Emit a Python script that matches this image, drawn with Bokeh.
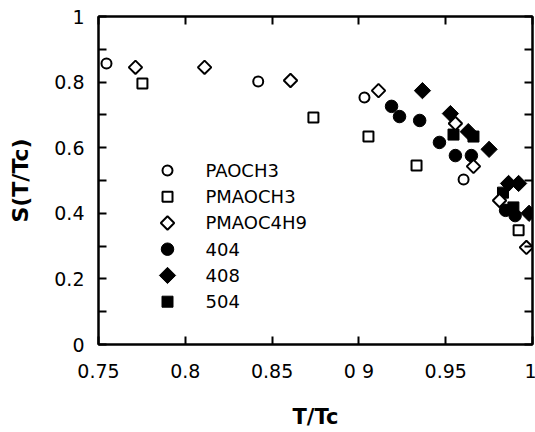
import math
from bokeh.plotting import figure
from bokeh.models import Range1d, LinearAxis, FixedTicker, CustomLabelingPolicy
from bokeh.core.properties import value
from bokeh.embed import file_html
from bokeh.resources import INLINE

# ---- data ----
paoch3_x = [0.7546, 0.842, 0.9032, 0.9603]
paoch3_y = [0.857, 0.802, 0.753, 0.503]

pmaoch3_x = [0.7753, 0.8738, 0.9055, 0.9332, 0.992]
pmaoch3_y = [0.796, 0.692, 0.634, 0.546, 0.348]

pmaoc4h9_x = [0.7713, 0.8111, 0.8606, 0.9113, 0.9556, 0.966, 0.981, 0.9965]
pmaoc4h9_y = [0.845, 0.845, 0.805, 0.774, 0.674, 0.543, 0.439, 0.296]

s404_x = [0.9188, 0.9234, 0.935, 0.9464, 0.9556, 0.9648, 0.9845, 0.990]
s404_y = [0.726, 0.695, 0.683, 0.616, 0.576, 0.576, 0.409, 0.393]

s408_x = [0.9366, 0.9527, 0.963, 0.975, 0.9862, 0.992, 0.998]
s408_y = [0.774, 0.704, 0.649, 0.595, 0.491, 0.491, 0.400]

s504_x = [0.9545, 0.966, 0.983, 0.989]
s504_y = [0.640, 0.634, 0.463, 0.418]

series_names = ["PAOCH3", "PMAOCH3", "PMAOC4H9", "404", "408", "504"]

x_tick_values = [0.75, 0.8, 0.85, 0.9, 0.95, 1.0]
x_tick_labels = ["0.75", "0.8", "0.85", "0 9", "0.95", "1"]
y_tick_values = [0.0, 0.2, 0.4, 0.6, 0.8, 1.0]
y_tick_labels = ["0", "0.2", "0.4", "0.6", "0.8", "1"]
y_minor_values = [0.1, 0.3, 0.5, 0.7, 0.9]

x_title = "T/Tc"
y_title = "S(T/Tc)"

FONT = "DejaVu Sans"

# ---- marker styles ----
OPEN = dict(fill_color="white", line_color="black", line_width=2)
FILLED = dict(fill_color="black", line_color="black", line_width=1)
DIAMOND = math.pi / 4
styles = {
    "PAOCH3": dict(marker="circle", size=10, angle=0, **OPEN),
    "PMAOCH3": dict(marker="square", size=10, angle=0, **OPEN),
    "PMAOC4H9": dict(marker="square", size=9.5, angle=DIAMOND, **OPEN),
    "404": dict(marker="circle", size=12.5, angle=0, **FILLED),
    "408": dict(marker="square", size=11.5, angle=DIAMOND, **FILLED),
    "504": dict(marker="square", size=11, angle=0, **FILLED),
}
series_data = {
    "PAOCH3": (paoch3_x, paoch3_y),
    "PMAOCH3": (pmaoch3_x, pmaoch3_y),
    "PMAOC4H9": (pmaoc4h9_x, pmaoc4h9_y),
    "404": (s404_x, s404_y),
    "408": (s408_x, s408_y),
    "504": (s504_x, s504_y),
}

p = figure(width=535, height=432, frame_width=434, frame_height=328,
           output_backend="svg", toolbar_location=None,
           x_range=Range1d(0.75, 1.0), y_range=Range1d(0.0, 1.0),
           min_border_left=98, min_border_right=3, min_border_top=16,
           min_border_bottom=88, background_fill_color="white",
           border_fill_color="white")
p.grid.visible = False
p.outline_line_color = "black"
p.outline_line_width = 2

# filled series first, open (white-filled) series on top
draw_order = ["404", "504", "408", "PAOCH3", "PMAOCH3", "PMAOC4H9"]
for name in draw_order:
    xs, ys = series_data[name]
    p.scatter(xs, ys, **styles[name])

# ---- axes ----
xticker = FixedTicker(ticks=x_tick_values, minor_ticks=[])
yticker = FixedTicker(ticks=y_tick_values, minor_ticks=y_minor_values)
no_labels = CustomLabelingPolicy(code="return []")


def style_axis(ax, ticker, labels_visible=True):
    ax.ticker = ticker
    ax.axis_line_color = "black"
    ax.axis_line_width = 2
    ax.major_tick_in = 8
    ax.major_tick_out = 0
    ax.minor_tick_in = 8
    ax.minor_tick_out = 0
    ax.major_tick_line_width = 2
    ax.minor_tick_line_width = 2
    ax.major_tick_line_color = "black"
    ax.minor_tick_line_color = "black"
    if labels_visible:
        ax.major_label_text_font = FONT
        ax.major_label_text_font_size = "19px"
        ax.major_label_text_color = "black"
        ax.axis_label_text_font = FONT
        ax.axis_label_text_font_style = "bold"
        ax.axis_label_text_font_size = "21px"
        ax.axis_label_text_color = "black"
    else:
        ax.major_label_policy = no_labels
        ax.major_label_standoff = 0
        ax.major_label_text_font_size = "1px"


xa = p.xaxis[0]
style_axis(xa, xticker)
xa.major_label_overrides = {v: t for v, t in zip(x_tick_values, x_tick_labels)}
xa.major_label_standoff = 15
xa.axis_label = x_title
xa.axis_label_standoff = 20

ya = p.yaxis[0]
style_axis(ya, yticker)
ya.major_label_overrides = {v: t for v, t in zip(y_tick_values, y_tick_labels)}
ya.major_label_standoff = 14
ya.axis_label = y_title
ya.axis_label_text_font_size = "22px"
ya.axis_label_standoff = 18

top = LinearAxis()
style_axis(top, xticker, labels_visible=False)
p.add_layout(top, "above")
right = LinearAxis()
style_axis(right, yticker, labels_visible=False)
p.add_layout(right, "right")

# ---- legend (in frame-fraction coordinates) ----
p.extra_x_ranges = {"frac": Range1d(0, 1)}
p.extra_y_ranges = {"frac": Range1d(0, 1)}
legend_marker_x = 0.159
legend_text_x = 0.2465
legend_top = 0.5305
legend_pitch = 0.08
for i, name in enumerate(series_names):
    yrow = legend_top - i * legend_pitch
    p.scatter([legend_marker_x], [yrow], x_range_name="frac",
              y_range_name="frac", **styles[name])
    p.text([legend_text_x], [yrow], text=[name], x_range_name="frac",
           y_range_name="frac", text_font=value(FONT),
           text_font_size="18px", text_baseline="middle", text_align="left",
           text_color="black")

open("out.html", "w").write(file_html(p, INLINE))
